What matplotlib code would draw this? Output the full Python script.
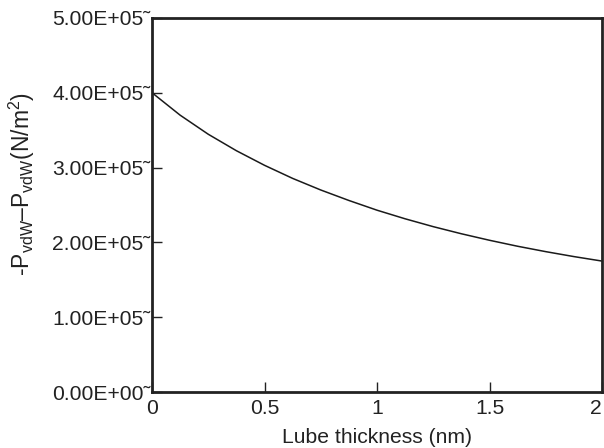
import matplotlib
matplotlib.use('Agg')
import matplotlib.pyplot as plt

# values (pressure in N/m^2)
thickness = [0, 0.125, 0.25, 0.375, 0.5, 0.625, 0.75, 0.875, 1.0,
             1.125, 1.25, 1.375, 1.5, 1.625, 1.75, 1.875, 2.0]
pressure = [4.00e5, 3.70e5, 3.445e5, 3.225e5, 3.03e5, 2.855e5, 2.70e5, 2.56e5, 2.43e5,
            2.315e5, 2.21e5, 2.115e5, 2.028e5, 1.948e5, 1.876e5, 1.81e5, 1.75e5]
yticks = [0, 1e5, 2e5, 3e5, 4e5, 5e5]
ytick_labels = ["0.00E+00\u02dc", "1.00E+05\u02dc", "2.00E+05\u02dc",
                "3.00E+05\u02dc", "4.00E+05\u02dc", "5.00E+05\u02dc"]
xticks = [0, 0.5, 1, 1.5, 2]
xtick_labels = ["0", "0.5", "1", "1.5", "2"]

plt.rcParams['font.family'] = ['Liberation Sans', 'DejaVu Sans']
plt.rcParams['mathtext.fontset'] = 'custom'
plt.rcParams['mathtext.rm'] = 'Liberation Sans'
plt.rcParams['mathtext.it'] = 'Liberation Sans'

fig = plt.figure(figsize=(6.04, 4.48), dpi=100)
ax = fig.add_axes([0.2517, 0.125, 0.745, 0.835])

ax.plot(thickness, pressure, color='#1a1a1a', lw=1.1)

ax.set_xlim(0, 2)
ax.set_ylim(0, 5e5)
ax.set_xticks(xticks)
ax.set_xticklabels(xtick_labels)
ax.set_yticks(yticks)
ax.set_yticklabels(ytick_labels)
ax.tick_params(direction='in', length=7, width=1, labelsize=15.2, colors='#222222', pad=1)
ax.tick_params(axis='x', pad=5)
ax.get_xticklabels()[-1].set_ha('right')

for s in ax.spines.values():
    s.set_linewidth(2)
    s.set_color('#222222')

ax.set_xlabel("Lube thickness (nm)", fontsize=15.2, color='#222222')
ax.xaxis.set_label_coords(0.5, -0.095)
ax.set_ylabel(r"-P$_{\mathrm{vdW}}$–P$_{\mathrm{vdW}}$(N/m$^{2}$)", fontsize=16.5,
              color='#222222')
ax.yaxis.set_label_coords(-0.256, 0.556)

fig.savefig("out.png", dpi=100)
